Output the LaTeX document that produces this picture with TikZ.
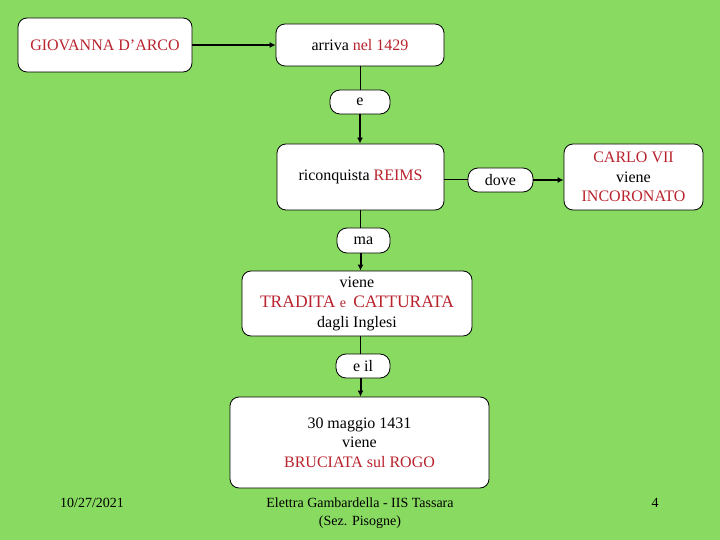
\documentclass[tikz,border=0pt]{standalone}
\usepackage{fontspec}
\setmainfont{Liberation Serif}
\usetikzlibrary{arrows.meta}
\definecolor{bg}{RGB}{136,218,96}
\definecolor{dred}{RGB}{185,35,45}
\begin{document}
\begin{tikzpicture}[x=1pt,y=-1pt,
  box/.style={draw=black, line width=0.8pt, fill=white, rounded corners=9pt, align=center,
    inner sep=0pt, font=\fontsize{16}{19.5}\selectfont},
  lbl/.style={draw=black, line width=0.8pt, fill=white, rounded corners=10pt, align=center,
    inner sep=0pt, font=\fontsize{16}{18}\selectfont},
  plain/.style={line width=1pt},
  arr/.style={line width=2pt, -{Latex[length=6pt,width=6pt]}},
  foot/.style={font=\fontsize{14}{18}\selectfont, align=center}]
\fill[bg] (0,0) rectangle (720,540);
\useasboundingbox (0,0) rectangle (720,540);

\node[box, minimum width=174pt, minimum height=54pt] (g) at (105,45) {\textcolor{dred}{GIOVANNA D’ARCO}};
\node[box, minimum width=168pt, minimum height=42pt] (a) at (360,45) {arriva \textcolor{dred}{nel 1429}};
\node[lbl, minimum width=60pt, minimum height=24pt] (e1) at (360,102) {e};
\node[box, minimum width=167pt, minimum height=66pt] (r) at (360.5,177) {riconquista \textcolor{dred}{REIMS}};
\node[lbl, minimum width=65pt, minimum height=24pt] (d) at (500.5,180) {dove};
\node[box, minimum width=139pt, minimum height=66pt] (c) at (633.5,177) {\textcolor{dred}{CARLO VII}\\viene\\\textcolor{dred}{INCORONATO}};
\node[lbl, minimum width=53pt, minimum height=25pt] (m) at (363.5,240.5) {ma};
\node[box, minimum width=230pt, minimum height=65pt] (t) at (357,303.5) {viene\\[1pt]\textcolor{dred}{\fontsize{17.5}{19.5}\selectfont TRADITA {\fontsize{14}{18}\selectfont e} \,CATTURATA}\\dagli Inglesi};
\node[lbl, minimum width=54pt, minimum height=24pt] (ei) at (363,366) {e il};
\node[box, minimum width=259pt, minimum height=91pt] (b) at (359.5,442.5) {30 maggio 1431\\viene\\\textcolor{dred}{BRUCIATA sul ROGO}};

\draw[arr] (g.east) -- (a.west);
\draw[plain] (a.south) -- (a.south |- e1.north);
\draw[arr] (a.south |- e1.south) -- (a.south |- r.north);
\draw[plain] (r.east |- d.west) -- (d.west);
\draw[arr] (d.east) -- (d.east -| c.west);
\draw[plain] (r.south) -- (r.south |- m.north);
\draw[arr] (r.south |- m.south) -- (r.south |- t.north);
\draw[plain] (r.south |- t.south) -- (r.south |- ei.north);
\draw[arr] (r.south |- ei.south) -- (r.south |- b.north);

\node[foot] (f1) at (92,503) {10/27/2021};
\node[foot] (f2) at (360,513) {Elettra Gambardella - IIS Tassara\\(Sez. Pisogne)};
\node[foot] (f3) at (655,503) {4};
\end{tikzpicture}
\end{document}
